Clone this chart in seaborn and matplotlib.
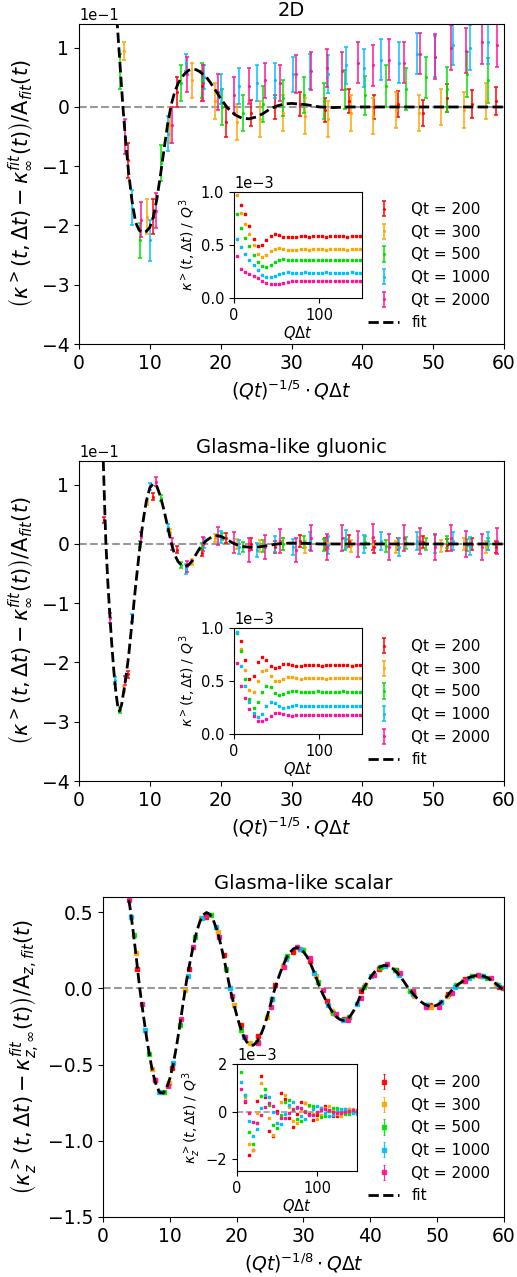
import numpy as np
import matplotlib
matplotlib.use("Agg")
import matplotlib.pyplot as plt
import seaborn as sns

nan = float("nan")

# ---------------- common ----------------
qt_values = [200, 300, 500, 1000, 2000]
series_labels = ["Qt = 200", "Qt = 300", "Qt = 500", "Qt = 1000", "Qt = 2000"]
series_colors = ["#ff0000", "#ffa500", "#00e000", "#00bfff", "#ff1493"]
panel_titles = ["2D", "Glasma-like gluonic", "Glasma-like scalar"]

# sampled Q*dt values of the main panels and insets
qdt_main_a = [10, 20, 30, 40, 50, 60, 70, 80, 90, 100, 110, 120, 130, 140, 150,
              160, 170, 180, 190, 200, 210, 220, 230, 240, 250, 260, 270]
qdt_main_b = [5, 10, 15, 20, 25, 30, 35, 40, 45, 50, 55, 60, 65, 70, 75, 80,
              85, 90, 95, 100, 105, 110, 115, 120, 125, 130, 135, 140, 145, 150, 155]
qdt_inset_a = [3, 8, 13, 18, 23, 28, 33, 38, 43, 48, 53, 58, 63, 68, 73, 78,
               83, 88, 93, 98, 103, 108, 113, 118, 123, 128, 133, 138, 143, 148]
qdt_inset_b = [5, 10, 15, 20, 25, 30, 35, 40, 45, 50, 55, 60, 65, 70, 75, 80,
               85, 90, 95, 100, 105, 110, 115, 120, 125, 130, 135, 140, 145, 150]

# ---------------- panel 1 : 2D (values in units of 1e-1) ----------------
p1_y200 = [nan, -0.9, -1.85, 0.25, 0.35, -0.25, -0.1, 0.0, 0.05, -0.05, 0.1, 0.0, 0.05, -0.1, 0.15, 0.05, 0.1]
p1_e200 = [0.0, 0.3, 0.3, 0.25, 0.25, 0.25, 0.22, 0.2, 0.2, 0.2, 0.2, 0.2, 0.22, 0.22, 0.24, 0.24, 0.24]
p1_y300 = [nan, 0.95, -1.85, -0.3, 0.45, 0.1, -0.25, -0.2, -0.1, -0.15, -0.2, -0.1, -0.15, -0.05, -0.1, 0.0, -0.05, 0.1]
p1_e300 = [0.0, 0.15, 0.3, 0.3, 0.3, 0.3, 0.3, 0.3, 0.3, 0.3, 0.3, 0.3, 0.3, 0.3, 0.3, 0.3, 0.3, 0.3]
p1_y500 = [nan, 0.6, -2.25, -0.95, 0.4, 0.45, 0.0, -0.1, 0.05, 0.15, 0.2, 0.1, 0.3, 0.2, 0.35, 0.3, 0.5, 0.3, 0.55, 0.45]
p1_e500 = [0.0, 0.3, 0.3, 0.3, 0.3, 0.3, 0.3, 0.3, 0.3, 0.3, 0.3, 0.3, 0.33, 0.33, 0.35, 0.35, 0.35, 0.38, 0.38, 0.38]
p1_y1000 = [nan, nan, -1.7, -2.25, -0.45, 0.75, 0.5, 0.3, 0.35, 0.4, 0.45, 0.55, 0.6, 0.55, 0.7, 0.65, 0.8, 0.75,
            0.9, 0.85, 1.05, 1.0, 1.1]
p1_e1000 = [0.0, 0.0, 0.3, 0.35, 0.3, 0.15, 0.2, 0.25, 0.3, 0.3, 0.3, 0.3, 0.3, 0.32, 0.32, 0.32, 0.35, 0.35,
            0.35, 0.35, 0.35, 0.38, 0.38]
p1_y2000 = [nan, nan, -0.5, -1.9, -1.75, -0.3, 0.55, 0.4, 0.25, 0.2, 0.35, 0.45, 0.4, 0.55, 0.6, 0.65, 0.6, 0.75,
            0.7, 0.8, 0.75, 0.9, 0.85, 1.0, 0.95, 1.1, 1.05]
p1_e2000 = [0.0, 0.0, 0.3, 0.3, 0.3, 0.3, 0.3, 0.3, 0.3, 0.3, 0.3, 0.3, 0.3, 0.32, 0.32, 0.32, 0.32, 0.35,
            0.35, 0.35, 0.35, 0.35, 0.38, 0.38, 0.38, 0.38, 0.38]
p1_fit_x = [5.2, 5.4, 5.8, 6.2, 6.6, 7.0, 7.5, 8.0, 8.5, 9.0, 9.5, 10.0, 10.5, 11.0, 11.5, 12.0, 12.5, 13.0,
            13.5, 14.0, 14.5, 15.0, 15.5, 16.0, 16.5, 17.0, 17.5, 18.0, 18.5, 19.0, 19.5, 20.0, 21.0, 22.0,
            23.0, 24.0, 25.0, 26.0, 27.0, 28.0, 29.0, 30.0, 31.0, 32.0, 33.0, 34.0, 36.0, 38.0, 40.0, 45.0,
            50.0, 55.0, 60.0]
p1_fit_y = [1.75, 1.4, 0.7, 0.0, -0.6, -1.1, -1.6, -1.95, -2.08, -2.12, -2.1, -2.03, -1.85, -1.55, -1.15,
            -0.72, -0.3, 0.03, 0.25, 0.4, 0.5, 0.57, 0.62, 0.64, 0.63, 0.6, 0.55, 0.5, 0.42, 0.33, 0.24, 0.14,
            -0.02, -0.13, -0.19, -0.2, -0.17, -0.11, -0.03, 0.02, 0.05, 0.06, 0.05, 0.04, 0.02, 0.0, -0.01,
            0.0, 0.0, 0.0, 0.0, 0.0, 0.0]
# inset 1 (units of 1e-3)
i1_200 = [1.05, 0.88, 0.79, 0.68, 0.56, 0.49, 0.5, 0.55, 0.59, 0.6, 0.595, 0.58, 0.575, 0.575, 0.58, 0.585,
          0.585, 0.58, 0.585, 0.59, 0.585, 0.58, 0.585, 0.59, 0.585, 0.585, 0.58, 0.585, 0.59, 0.585]
i1_300 = [0.97, 0.8, 0.7, 0.6, 0.5, 0.42, 0.39, 0.41, 0.44, 0.465, 0.47, 0.46, 0.455, 0.45, 0.455, 0.46,
          0.46, 0.455, 0.46, 0.465, 0.46, 0.455, 0.46, 0.46, 0.465, 0.46, 0.455, 0.46, 0.46, 0.46]
i1_500 = [0.79, 0.66, 0.57, 0.49, 0.41, 0.34, 0.3, 0.29, 0.31, 0.34, 0.36, 0.365, 0.36, 0.355, 0.355, 0.36,
          0.355, 0.36, 0.355, 0.36, 0.36, 0.355, 0.36, 0.355, 0.36, 0.36, 0.355, 0.36, 0.355, 0.355]
i1_1000 = [0.56, 0.48, 0.42, 0.36, 0.31, 0.26, 0.22, 0.195, 0.195, 0.21, 0.23, 0.24, 0.245, 0.24, 0.24, 0.24,
           0.245, 0.24, 0.24, 0.24, 0.24, 0.245, 0.24, 0.24, 0.24, 0.24, 0.24, 0.245, 0.24, 0.24]
i1_2000 = [0.4, 0.27, 0.245, 0.225, 0.205, 0.185, 0.165, 0.145, 0.13, 0.13, 0.135, 0.145, 0.155, 0.16, 0.16,
           0.16, 0.16, 0.16, 0.158, 0.16, 0.16, 0.16, 0.16, 0.158, 0.16, 0.16, 0.16, 0.16, 0.16, 0.16]

# ---------------- panel 2 : gluonic (units of 1e-1) ----------------
p2_y200 = [0.4, -2.2, 0.8, -0.1, -0.15, 0.1, 0.0, -0.05, 0.05, 0.0, 0.05, -0.05, 0.0, 0.03, -0.02, 0.0, -0.05]
p2_e200 = [0.05, 0.06, 0.06, 0.06, 0.06, 0.08, 0.1, 0.1, 0.1, 0.1, 0.1, 0.1, 0.1, 0.1, 0.1, 0.1, 0.1]
p2_y300 = [nan, -2.45, 0.7, 0.2, -0.3, 0.1, 0.0, -0.03, 0.0, -0.05, 0.02, -0.03, 0.0, -0.05, 0.02, -0.04, 0.0, -0.05]
p2_e300 = [0.0, 0.05, 0.05, 0.05, 0.05, 0.06, 0.08, 0.1, 0.1, 0.1, 0.1, 0.1, 0.1, 0.1, 0.1, 0.1, 0.1, 0.1]
p2_y500 = [nan, -2.8, 0.0, 0.78, -0.35, -0.05, 0.12, -0.05, -0.04, 0.0, 0.03, -0.02, 0.0, 0.04, -0.03, 0.02,
           0.0, 0.04, -0.02, 0.0]
p2_e500 = [0.0, 0.05, 0.05, 0.05, 0.05, 0.06, 0.06, 0.08, 0.1, 0.1, 0.1, 0.1, 0.1, 0.1, 0.1, 0.1, 0.1, 0.1,
           0.1, 0.1]
p2_y1000 = [nan, -2.3, -1.25, 0.97, 0.28, -0.42, 0.02, 0.12, -0.05, -0.1, 0.0, -0.05, 0.05, -0.02, 0.08, 0.0,
            0.05, -0.05, 0.05, 0.0, 0.05, -0.03, 0.05]
p2_e1000 = [0.0, 0.06, 0.06, 0.06, 0.06, 0.08, 0.08, 0.1, 0.12, 0.12, 0.14, 0.14, 0.15, 0.15, 0.15, 0.15,
            0.15, 0.15, 0.15, 0.15, 0.15, 0.15, 0.15]
p2_y2000 = [nan, -1.25, -2.3, 0.12, 1.05, 0.0, -0.38, 0.0, 0.14, 0.02, -0.1, -0.05, 0.05, -0.1, 0.1, -0.05,
            0.1, 0.0, 0.12, -0.05, 0.1, 0.05, -0.05, 0.1, 0.0, -0.05, 0.05]
p2_e2000 = [0.0, 0.08, 0.08, 0.08, 0.08, 0.1, 0.1, 0.12, 0.15, 0.18, 0.2, 0.2, 0.2, 0.2, 0.22, 0.22, 0.22,
            0.22, 0.22, 0.22, 0.22, 0.22, 0.22, 0.22, 0.22, 0.22, 0.22]
p2_fit_x = [3.3, 3.43, 3.6, 3.8, 4.05, 4.3, 4.6, 4.9, 5.2, 5.45, 5.7, 6.0, 6.5, 7.0, 7.5, 8.0, 8.5, 9.0, 9.5,
            10.0, 10.5, 11.0, 11.5, 12.0, 12.5, 13.0, 13.5, 14.0, 14.5, 15.0, 15.5, 16.0, 16.5, 17.0, 17.5,
            18.0, 18.5, 19.0, 19.5, 20.0, 20.5, 21.0, 21.5, 22.0, 23.0, 24.0, 25.0, 26.0, 27.0, 28.0, 29.0,
            30.0, 32.0, 34.0, 40.0, 50.0, 60.0]
p2_fit_y = [1.9, 1.4, 0.72, 0.0, -0.6, -1.1, -1.65, -2.12, -2.5, -2.72, -2.82, -2.72, -2.35, -1.9, -1.3,
            -0.7, -0.15, 0.35, 0.72, 0.95, 1.02, 0.97, 0.8, 0.57, 0.3, 0.03, -0.18, -0.3, -0.36, -0.38, -0.35,
            -0.28, -0.18, -0.08, 0.0, 0.06, 0.1, 0.13, 0.14, 0.13, 0.1, 0.07, 0.03, 0.0, -0.04, -0.055, -0.055,
            -0.04, -0.02, 0.0, 0.01, 0.015, 0.01, 0.0, 0.0, 0.0, 0.0]
i2_200 = [1.1, 0.88, 0.7, 0.52, 0.55, 0.68, 0.73, 0.7, 0.64, 0.62, 0.635, 0.66, 0.665, 0.655, 0.645, 0.645,
          0.65, 0.655, 0.65, 0.65, 0.645, 0.65, 0.65, 0.655, 0.65, 0.65, 0.65, 0.645, 0.65, 0.65]
i2_300 = [1.02, 0.8, 0.6, 0.42, 0.4, 0.5, 0.59, 0.6, 0.55, 0.5, 0.5, 0.52, 0.535, 0.535, 0.525, 0.52, 0.525,
          0.525, 0.53, 0.525, 0.525, 0.52, 0.525, 0.525, 0.525, 0.53, 0.525, 0.525, 0.525, 0.525]
i2_500 = [0.95, 0.78, 0.52, 0.33, 0.25, 0.3, 0.4, 0.45, 0.44, 0.39, 0.37, 0.38, 0.4, 0.41, 0.405, 0.4, 0.4,
          0.4, 0.4, 0.405, 0.4, 0.4, 0.4, 0.4, 0.4, 0.405, 0.4, 0.4, 0.4, 0.4]
i2_1000 = [0.96, 0.64, 0.45, 0.3, 0.2, 0.16, 0.19, 0.26, 0.3, 0.29, 0.26, 0.25, 0.255, 0.265, 0.27, 0.265,
           0.26, 0.26, 0.26, 0.265, 0.26, 0.26, 0.26, 0.26, 0.265, 0.26, 0.26, 0.26, 0.26, 0.26]
i2_2000 = [0.67, 0.45, 0.34, 0.24, 0.17, 0.125, 0.12, 0.14, 0.17, 0.195, 0.2, 0.19, 0.175, 0.17, 0.175, 0.18,
           0.18, 0.18, 0.18, 0.18, 0.175, 0.18, 0.18, 0.18, 0.18, 0.18, 0.18, 0.18, 0.18, 0.18]

# ---------------- panel 3 : scalar ----------------
p3_y200 = [nan, 0.13, -0.6, -0.52, 0.13, 0.47, 0.22, -0.24, -0.31, 0.02, 0.24, 0.18, -0.08, -0.2, -0.02,
           0.13, 0.12, -0.03, -0.11, -0.04, 0.06, 0.08, 0.01]
p3_y300 = [nan, 0.23, -0.53, -0.62, -0.01, 0.46, 0.37, -0.11, -0.36, -0.19, 0.15, 0.26, 0.08, -0.15, -0.19,
           0.02, 0.14, 0.1, -0.05, -0.12, -0.05, 0.05, 0.08, 0.03]
p3_y500 = [nan, 0.35, -0.43, -0.68, -0.24, 0.34, 0.48, 0.13, -0.27, -0.35, -0.07, 0.21, 0.25, 0.04, -0.16,
           -0.19, 0.01, 0.14, 0.12, -0.02, -0.11, -0.09, 0.02, 0.08, 0.07, 0.0]
p3_y1000 = [nan, 0.47, -0.27, -0.68, -0.49, 0.08, 0.46, 0.4, 0.0, -0.32, -0.35, -0.07, 0.19, 0.26, 0.1,
            -0.11, -0.21, -0.1, 0.08, 0.15, 0.09, -0.04, -0.11, -0.09, 0.01, 0.07, 0.08, 0.02]
p3_y2000 = [nan, 0.58, -0.1, -0.6, -0.64, -0.2, 0.27, 0.48, 0.34, -0.05, -0.32, -0.36, -0.12, 0.14, 0.27,
            0.2, -0.01, -0.17, -0.21, -0.06, 0.09, 0.16, 0.1, -0.02, -0.12, -0.12, -0.03, 0.05, 0.09, 0.07, 0.0]
p3_err = [0.006, 0.006, 0.006, 0.007, 0.008]
p3_fit_x = [3.0, 3.5, 4.0, 4.5, 5.0, 5.5, 6.0, 6.5, 7.0, 7.5, 8.0, 8.5, 9.0, 9.5, 10.0, 10.5, 11.0, 11.5,
            12.0, 12.5, 13.0, 13.5, 14.0, 14.5, 15.0, 15.5, 16.0, 16.5, 17.0, 17.5, 18.0, 18.5, 19.0, 19.5,
            20.0, 20.5, 21.0, 21.5, 22.0, 22.5, 23.0, 23.5, 24.0, 24.5, 25.0, 25.5, 26.0, 26.5, 27.0, 27.5,
            28.0, 28.5, 29.0, 29.5, 30.0, 30.5, 31.0, 31.5, 32.0, 32.5, 33.0, 33.5, 34.0, 34.5, 35.0, 35.5,
            36.0, 36.5, 37.0, 37.5, 38.0, 38.5, 39.0, 39.5, 40.0, 40.5, 41.0, 41.5, 42.0, 42.5, 43.0, 43.5,
            44.0, 44.5, 45.0, 45.5, 46.0, 46.5, 47.0, 47.5, 48.0, 48.5, 49.0, 49.5, 50.0, 50.5, 51.0, 51.5,
            52.0, 52.5, 53.0, 53.5, 54.0, 54.5, 55.0, 55.5, 56.0, 56.5, 57.0, 57.5, 58.0, 58.5, 59.0, 59.5,
            60.0]
p3_fit_y = [0.77, 0.676, 0.544, 0.381, 0.195, 0.0, -0.163, -0.316, -0.452, -0.562, -0.64, -0.683, -0.687,
            -0.656, -0.592, -0.499, -0.38, -0.242, -0.093, 0.049, 0.168, 0.277, 0.369, 0.439, 0.483, 0.498,
            0.486, 0.449, 0.389, 0.31, 0.216, 0.111, 0.0, -0.09, -0.174, -0.249, -0.309, -0.351, -0.372,
            -0.373, -0.353, -0.316, -0.262, -0.195, -0.117, -0.034, 0.038, 0.1, 0.155, 0.203, 0.238, 0.26,
            0.268, 0.261, 0.241, 0.21, 0.167, 0.116, 0.06, 0.0, -0.047, -0.092, -0.132, -0.166, -0.19,
            -0.205, -0.21, -0.203, -0.181, -0.147, -0.102, -0.05, 0.0, 0.037, 0.071, 0.101, 0.126, 0.142,
            0.15, 0.15, 0.141, 0.126, 0.104, 0.077, 0.047, 0.014, -0.016, -0.041, -0.065, -0.085, -0.101,
            -0.112, -0.118, -0.117, -0.109, -0.095, -0.075, -0.051, -0.023, 0.004, 0.021, 0.037, 0.052,
            0.065, 0.075, 0.081, 0.085, 0.084, 0.079, 0.07, 0.057, 0.041, 0.023, 0.004, -0.01]
i3_200 = [2.45, 0.4, -1.81, -1.61, 0.43, 1.49, 0.62, -0.8, -1.02, 0.03, 0.77, 0.52, -0.28, -0.63, -0.09,
          0.41, 0.34, -0.11, -0.35, -0.14, 0.17, 0.25, 0.03, -0.2, -0.18, -0.03, 0.12, 0.12, 0.0, -0.08]
i3_300 = [2.14, 0.61, -1.38, -1.62, -0.04, 1.2, 0.95, -0.28, -0.97, -0.5, 0.39, 0.68, 0.2, -0.4, -0.5, 0.04,
          0.38, 0.25, -0.12, -0.31, -0.14, 0.13, 0.22, 0.08, -0.1, -0.17, -0.05, 0.09, 0.12, 0.03]
i3_500 = [1.66, 0.69, -0.85, -1.36, -0.48, 0.67, 0.96, 0.26, -0.55, -0.71, -0.14, 0.42, 0.49, 0.07, -0.33,
          -0.38, 0.01, 0.28, 0.24, -0.03, -0.22, -0.19, 0.03, 0.15, 0.14, 0.0, -0.1, -0.12, -0.03, 0.07]
i3_1000 = [1.25, 0.71, -0.4, -1.02, -0.74, 0.13, 0.7, 0.61, 0.0, -0.48, -0.52, -0.1, 0.29, 0.39, 0.15,
           -0.17, -0.32, -0.16, 0.11, 0.23, 0.14, -0.05, -0.17, -0.14, 0.02, 0.11, 0.12, 0.03, -0.06, -0.1]
i3_2000 = [0.95, 0.44, -0.08, -0.45, -0.48, -0.16, 0.21, 0.37, 0.24, -0.05, -0.25, -0.26, -0.08, 0.12, 0.2,
           0.13, -0.03, -0.14, -0.15, -0.03, 0.08, 0.11, 0.06, -0.03, -0.08, -0.08, -0.01, 0.04, 0.06, 0.04]

# ---------------- styling ----------------
sns.set_theme(style="ticks", rc={
    "axes.edgecolor": "black", "axes.linewidth": 0.8, "axes.labelcolor": "black",
    "text.color": "black", "xtick.color": "black", "ytick.color": "black",
    "xtick.major.size": 3.5, "ytick.major.size": 3.5,
    "xtick.major.width": 0.8, "ytick.major.width": 0.8,
    "font.size": 10, "mathtext.fontset": "dejavusans",
})
plt.rcParams["font.family"] = ["DejaVu Sans"]

fig = plt.figure(figsize=(5.17, 12.77), dpi=100)

main_pos = [[0.1528, 0.7306, 0.8221, 0.2506],
            [0.1528, 0.3884, 0.8221, 0.2506],
            [0.1992, 0.0470, 0.7756, 0.2506]]
inset_pos = [[0.4526, 0.7666, 0.2476, 0.0830],
             [0.4526, 0.4252, 0.2476, 0.0830],
             [0.4584, 0.0830, 0.2321, 0.0838]]

panels = [
    dict(grid=qdt_main_a, power=1 / 5, scale=0.1,
         ys=[p1_y200, p1_y300, p1_y500, p1_y1000, p1_y2000],
         es=[p1_e200, p1_e300, p1_e500, p1_e1000, p1_e2000],
         fx=p1_fit_x, fy=p1_fit_y, ylim=(-0.4, 0.14), yticks=None,
         ylabel=r"$\left(\kappa^>(t,\Delta t)-\kappa_\infty^{fit}(t)\right)/\mathrm{A}_{fit}(t)$",
         xlabel=r"$(Qt)^{-1/5}\cdot Q\Delta t$", marker=".", ms=2.5, cap=1.6, elw=1.2,
         igrid=qdt_inset_a, ivals=[i1_200, i1_300, i1_500, i1_1000, i1_2000], ierr=0.008,
         iylim=(0, 1e-3), iyticks=[0, 0.5e-3, 1e-3],
         iylabel=r"$\kappa^>(t,\Delta t)\ /\ Q^3$", izero=False),
    dict(grid=qdt_main_a, power=1 / 5, scale=0.1,
         ys=[p2_y200, p2_y300, p2_y500, p2_y1000, p2_y2000],
         es=[p2_e200, p2_e300, p2_e500, p2_e1000, p2_e2000],
         fx=p2_fit_x, fy=p2_fit_y, ylim=(-0.4, 0.14), yticks=None,
         ylabel=r"$\left(\kappa^>(t,\Delta t)-\kappa_\infty^{fit}(t)\right)/\mathrm{A}_{fit}(t)$",
         xlabel=r"$(Qt)^{-1/5}\cdot Q\Delta t$", marker=".", ms=2.5, cap=1.6, elw=1.2,
         igrid=qdt_inset_a, ivals=[i2_200, i2_300, i2_500, i2_1000, i2_2000], ierr=0.008,
         iylim=(0, 1e-3), iyticks=[0, 0.5e-3, 1e-3],
         iylabel=r"$\kappa^>(t,\Delta t)\ /\ Q^3$", izero=False),
    dict(grid=qdt_main_b, power=1 / 8, scale=1.0,
         ys=[p3_y200, p3_y300, p3_y500, p3_y1000, p3_y2000],
         es=[[v] * 40 for v in p3_err],
         fx=p3_fit_x, fy=p3_fit_y, ylim=(-1.5, 0.6), yticks=[-1.5, -1.0, -0.5, 0.0, 0.5],
         ylabel=r"$\left(\kappa_z^>(t,\Delta t)-\kappa_{z,\infty}^{fit}(t)\right)/\mathrm{A}_{z,fit}(t)$",
         xlabel=r"$(Qt)^{-1/8}\cdot Q\Delta t$", marker="s", ms=2.6, cap=1.0, elw=0.8,
         igrid=qdt_inset_b, ivals=[i3_200, i3_300, i3_500, i3_1000, i3_2000], ierr=0.03,
         iylim=(-2.5e-3, 2e-3), iyticks=[-2e-3, 0, 2e-3],
         iylabel=r"$\kappa_z^>(t,\Delta t)\ /\ Q^3$", izero=True),
]

for k, p in enumerate(panels):
    ax = fig.add_axes(main_pos[k])
    ax.axhline(0, color="grey", ls="--", lw=1.5, alpha=0.8, zorder=1)
    handles = []
    for i in range(5):
        y = np.array(p["ys"][i], dtype=float) * p["scale"]
        n = len(y)
        x = np.array(p["grid"][:n], dtype=float) * qt_values[i] ** (-p["power"])
        e = np.array(p["es"][i][:n], dtype=float) * p["scale"]
        h = ax.errorbar(x, y, yerr=e, fmt=p["marker"], ms=p["ms"], color=series_colors[i],
                        ecolor=series_colors[i], elinewidth=p["elw"], capsize=p["cap"],
                        capthick=p["elw"], alpha=0.9, label=series_labels[i], zorder=2)
        handles.append(h)
    sns.lineplot(x=p["fx"], y=np.array(p["fy"]) * p["scale"], ax=ax, color="black", lw=2,
                 linestyle="--", sort=False, legend=False, zorder=3)
    fit_line = ax.lines[-1]
    ax.set_xlim(0, 60)
    ax.set_ylim(*p["ylim"])
    ax.set_xticks([0, 10, 20, 30, 40, 50, 60])
    if p["yticks"] is not None:
        ax.set_yticks(p["yticks"])
    else:
        ax.ticklabel_format(axis="y", style="sci", scilimits=(0, 0))
    ax.tick_params(labelsize=13.5)
    ax.yaxis.get_offset_text().set_fontsize(10.5)
    ax.set_title(panel_titles[k], fontsize=14, pad=6)
    ax.set_ylabel(p["ylabel"], fontsize=15)
    ax.set_xlabel(p["xlabel"], fontsize=13.5)
    ax.legend(handles + [fit_line], series_labels + ["fit"], loc="lower right",
              frameon=False, fontsize=11)

    ins = fig.add_axes(inset_pos[k])
    if p["izero"]:
        ins.axhline(0, color="grey", ls="--", lw=1.2, alpha=0.8, zorder=1)
    for i in range(5):
        yv = np.array(p["ivals"][i], dtype=float) * 1e-3
        ins.errorbar(p["igrid"], yv, yerr=p["ierr"] * 1e-3, fmt="s", ms=1.8,
                     color=series_colors[i], elinewidth=0.7, capsize=0.8, capthick=0.7, zorder=2)
    ins.set_xlim(0, 150)
    ins.set_ylim(*p["iylim"])
    ins.set_xticks([0, 100])
    ins.set_yticks(p["iyticks"])
    ins.ticklabel_format(axis="y", style="sci", scilimits=(0, 0))
    ins.tick_params(labelsize=10.5)
    ins.yaxis.get_offset_text().set_fontsize(10.5)
    ins.set_xlabel(r"$Q\Delta t$", fontsize=10.5, labelpad=1)
    ins.set_ylabel(p["iylabel"], fontsize=10, labelpad=2)

fig.savefig("out.png", dpi=100, facecolor="white")
